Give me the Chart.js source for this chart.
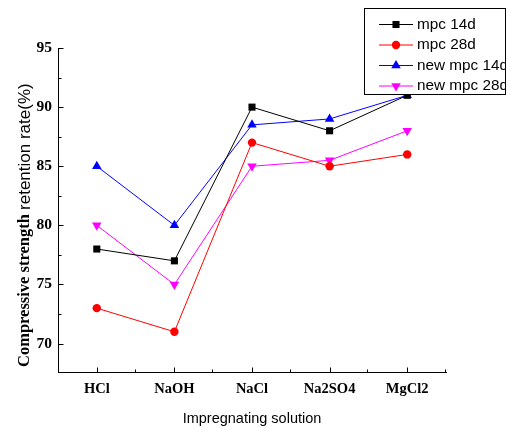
<!DOCTYPE html>
<html>
<head>
<meta charset="utf-8">
<script src="https://cdn.jsdelivr.net/npm/chart.js@4.4.0/dist/chart.umd.min.js"></script>
<style>
html,body{margin:0;padding:0;background:#fff;}
#wrap{width:506px;height:428px;position:relative;}
</style>
</head>
<body>
<div id="wrap"><canvas id="c" width="506" height="428"></canvas></div>
<script>
const categories = ["HCl", "NaOH", "NaCl", "Na2SO4", "MgCl2"];
const mpc14 = [78, 77, 90, 88, 91];
const mpc28 = [73, 71, 87, 85, 86];
const newMpc14 = [85, 80, 88.5, 89, 91];
const newMpc28 = [80, 75, 85, 85.5, 88];
const yTicks = [70, 75, 80, 85, 90, 95];
const yMinorTicks = [72.5, 77.5, 82.5, 87.5, 92.5];
const xMinorTicks = [0.5, 1.5, 2.5, 3.5, 4.5];
const seriesNames = ["mpc 14d", "mpc 28d", "new mpc 14d", "new mpc 28d"];

function pts(arr){ return arr.map((v,i)=>({x:i,y:v})); }

const ds = [
  {label: seriesNames[0], data: pts(mpc14), borderColor:'#000000', backgroundColor:'#000000', pointStyle:'rect', pointRadius:5, pointRotation:0},
  {label: seriesNames[1], data: pts(mpc28), borderColor:'#ff0000', backgroundColor:'#ff0000', pointStyle:'circle', pointRadius:4.2, pointRotation:0},
  {label: seriesNames[2], data: pts(newMpc14), borderColor:'#0000ff', backgroundColor:'#0000ff', pointStyle:'triangle', pointRadius:5.5, pointRotation:0},
  {label: seriesNames[3], data: pts(newMpc28), borderColor:'#ff00ff', backgroundColor:'#ff00ff', pointStyle:'triangle', pointRadius:5.5, pointRotation:180}
].map(d=>Object.assign(d,{borderWidth:1, pointBorderWidth:0, pointHoverRadius:d.pointRadius, tension:0, fill:false, clip:false}));

const innerTicks = {
  id:'innerTicks',
  afterDatasetsDraw(chart){
    const ctx = chart.ctx, x = chart.scales.x, y = chart.scales.y;
    ctx.save();
    ctx.strokeStyle = '#000'; ctx.lineWidth = 1;
    ctx.beginPath();
    const bottom = Math.round(y.getPixelForValue(y.min)) + 0.5;
    const left = Math.round(x.getPixelForValue(x.min)) + 0.5;
    categories.forEach((c,i)=>{ const px = Math.round(x.getPixelForValue(i))+0.5; ctx.moveTo(px,bottom); ctx.lineTo(px,bottom-5); });
    xMinorTicks.forEach(v=>{ const px = Math.round(x.getPixelForValue(v))-0.5; ctx.moveTo(px,bottom); ctx.lineTo(px,bottom-3); });
    yTicks.forEach(v=>{ const py = Math.round(y.getPixelForValue(v))+0.5; ctx.moveTo(left,py); ctx.lineTo(left+5,py); });
    yMinorTicks.forEach(v=>{ const py = Math.round(y.getPixelForValue(v))+0.5; ctx.moveTo(left,py); ctx.lineTo(left+3,py); });
    ctx.stroke();
    ctx.restore();
  }
};

const yTitle = {
  id:'yTitle',
  afterDraw(chart){
    const ctx = chart.ctx;
    ctx.save();
    ctx.translate(25, 367);
    ctx.rotate(-Math.PI/2);
    ctx.fillStyle = '#000';
    ctx.textBaseline = 'middle';
    ctx.textAlign = 'left';
    ctx.font = 'bold 16.5px "Liberation Serif"';
    const p1 = 'Compressive strength ';
    ctx.fillText(p1, 0, 0);
    const w1 = ctx.measureText(p1).width;
    ctx.font = '17px "Liberation Sans"';
    ctx.fillText('retention rate(%)', w1, 0);
    ctx.restore();
  }
};

const boxLegend = {
  id:'boxLegend',
  afterDraw(chart){
    const ctx = chart.ctx;
    ctx.save();
    ctx.fillStyle = '#fff';
    ctx.fillRect(364.5, 8.5, 141, 86);
    ctx.strokeStyle = '#000'; ctx.lineWidth = 1;
    ctx.strokeRect(364.5, 8.5, 141, 86);
    const ys = [24.5, 45, 65.5, 86];
    chart.data.datasets.forEach((d,i)=>{
      const yy = ys[i];
      ctx.strokeStyle = d.borderColor; ctx.lineWidth = 1;
      ctx.beginPath(); ctx.moveTo(379, yy); ctx.lineTo(413, yy); ctx.stroke();
      ctx.fillStyle = d.backgroundColor;
      Chart.helpers.drawPoint(ctx, {pointStyle:d.pointStyle, rotation:d.pointRotation, radius:d.pointRadius, borderWidth:0}, 396, yy);
      ctx.fillStyle = '#000';
      ctx.font = '15.3px "Liberation Sans"';
      ctx.textBaseline = 'middle'; ctx.textAlign = 'left';
      ctx.fillText(d.label, 417, yy);
    });
    ctx.restore();
  }
};

new Chart(document.getElementById('c'), {
  type:'line',
  data:{datasets:ds},
  plugins:[innerTicks, yTitle, boxLegend],
  options:{
    responsive:false, animation:false,
    layout:{padding:{left:0, right:60, top:48, bottom:0}},
    plugins:{legend:{display:false}, tooltip:{enabled:false}},
    scales:{
      x:{type:'linear', min:-0.5, max:4.5,
        afterBuildTicks(s){ s.ticks = categories.map((c,i)=>({value:i})); },
        afterFit(s){ s.height = 56; },
        ticks:{callback:(v)=>categories[v] ?? '', color:'#000', font:{family:'"Liberation Serif"', weight:'bold', size:14.5}, padding:9, maxRotation:0, autoSkip:false},
        grid:{display:false, drawTicks:false},
        border:{display:true, color:'#000', width:1},
        title:{display:true, text:'Impregnating solution', color:'#000', font:{family:'"Liberation Sans"', size:14.5}, padding:{top:0, bottom:0}}
      },
      y:{type:'linear', min:67.6, max:95,
        afterBuildTicks(s){ s.ticks = yTicks.map(v=>({value:v})); },
        afterFit(s){ s.width = 58; },
        ticks:{color:'#000', font:{family:'"Liberation Serif"', weight:'bold', size:15.5}, padding:6},
        grid:{display:false, drawTicks:false},
        border:{display:true, color:'#000', width:1}
      }
    }
  }
});
</script>
</body>
</html>
